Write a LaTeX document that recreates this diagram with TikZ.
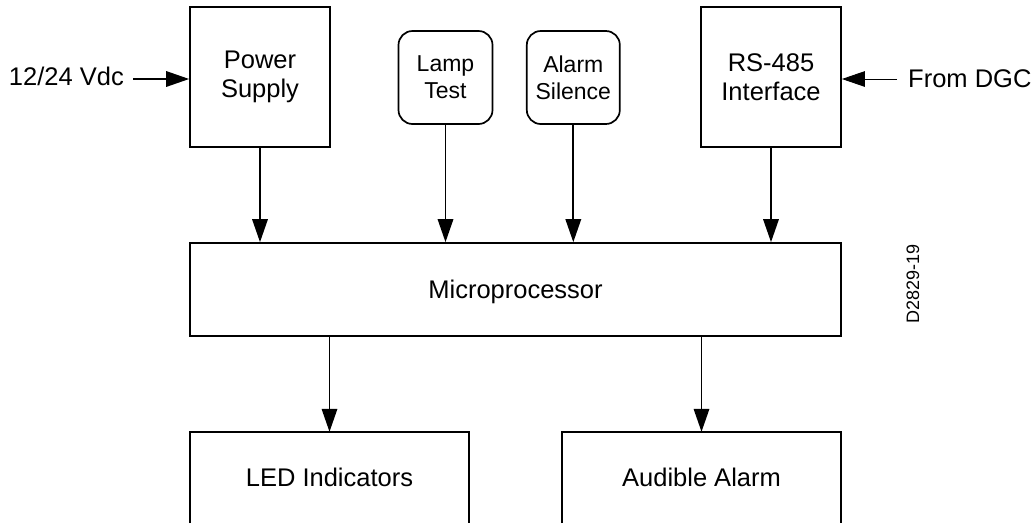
\documentclass[tikz,border=0pt]{standalone}
\usepackage{fontspec}
\setmainfont{Liberation Sans}
\usetikzlibrary{arrows.meta}
\tikzset{
  blk/.style={draw, line width=1.7pt, inner sep=0pt, align=center,
    font=\fontsize{25.5}{28.7}\selectfont},
  rblk/.style={blk, rounded corners=14pt, font=\fontsize{23}{27}\selectfont},
  openblk/.style={inner sep=0pt, align=center, font=\fontsize{25.5}{28.7}\selectfont},
  lbl/.style={inner sep=0pt, font=\fontsize{25.5}{28.7}\selectfont},
  arr/.style={line width=1.7pt, -{Triangle[length=23pt, width=15.5pt]}},
  thinarr/.style={line width=1pt, -{Triangle[length=23pt, width=15.5pt]}},
  edge3/.style={line width=1.7pt}
}
\begin{document}
\begin{tikzpicture}[x=1pt, y=-1pt]
\useasboundingbox (0,0) rectangle (1032,523);
% top blocks
\node[blk, minimum width=140pt, minimum height=139.4pt] (ps) at (260,77) {Power\\Supply};
\node[blk, minimum width=140pt, minimum height=139.4pt] (rs) at (771,77) {RS-485\\Interface};
\node[rblk, minimum width=94pt, minimum height=93pt] (lt) at (445.5,77.5) {Lamp\\Test};
\node[rblk, minimum width=93pt, minimum height=93pt] (as) at (573.3,77.5) {Alarm\\Silence};
% microprocessor
\node[blk, minimum width=651pt, minimum height=93pt, text height=18pt, text depth=0pt] (mp) at (515.5,289.5) {Microprocessor};
% bottom blocks (bottom edge outside the picture)
\node[openblk, minimum width=279pt, minimum height=91pt, text height=18pt, text depth=0pt] (led) at (329.5,477.5) {LED Indicators};
\node[openblk, minimum width=279pt, minimum height=91pt, text height=18pt, text depth=0pt] (aa) at (701.5,477.5) {Audible Alarm};
\draw[edge3] (led.south west) |- (led.north east) -- (led.south east);
\draw[edge3] (aa.south west) |- (aa.north east) -- (aa.south east);
% input labels
\node[lbl, anchor=base east] (vin) at (124,85) {12/24 Vdc};
\node[lbl, anchor=base west] (dgc) at (908,87) {From DGC};
\coordinate (vinS) at (133,79);
\coordinate (dgcS) at (897,79);
\draw[arr] (vinS) -- (vinS -| ps.west);
\draw[thinarr] (dgcS) -- (dgcS -| rs.east);
% arrows to microprocessor
\draw[arr] (ps.south) -- (ps.south |- mp.north);
\draw[arr] (lt.south) -- (lt.south |- mp.north);
\draw[arr] (as.south) -- (as.south |- mp.north);
\draw[arr] (rs.south) -- (rs.south |- mp.north);
% arrows from microprocessor
\draw[arr] (led.north |- mp.south) -- (led.north);
\draw[arr] (aa.north |- mp.south) -- (aa.north);
% drawing number
\node[inner sep=0pt, rotate=90, font=\fontsize{18}{20}\selectfont] (dn) at (913,284) {D2829-19};
\end{tikzpicture}
\end{document}
